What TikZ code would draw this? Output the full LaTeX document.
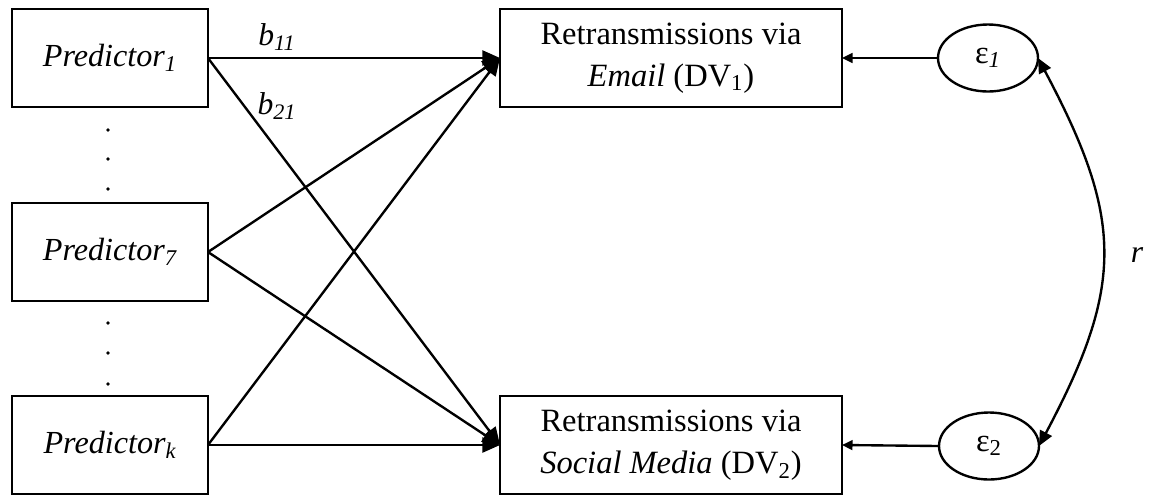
\documentclass[tikz,border=0pt]{standalone}
\usepackage{fontspec}
\setmainfont{Liberation Serif}
\usetikzlibrary{arrows.meta,shapes.geometric}
\begin{document}
\begin{tikzpicture}[x=0.02cm,y=-0.02cm,
  predbox/.style={draw,line width=1.35pt,outer sep=0pt,inner sep=0pt,
    minimum width=3.92cm,minimum height=1.96cm,
    font=\fontsize{18.3}{22}\selectfont\itshape},
  dvbox/.style={draw,line width=1.35pt,outer sep=0pt,inner sep=0pt,
    minimum width=6.84cm,minimum height=1.96cm,align=center,
    font=\fontsize{18.5}{24}\selectfont},
  errnode/.style={draw,ellipse,line width=1.35pt,outer sep=0pt,inner sep=0pt,
    minimum width=2cm,minimum height=1.34cm,
    font=\fontsize{18.5}{22}\selectfont},
  path/.style={line width=1.35pt,-{Triangle[length=10pt,width=8.5pt]}},
  errpath/.style={line width=1.35pt,-{Triangle[length=6pt,width=5.5pt]}},
  corr/.style={line width=1.35pt,{Triangle[length=8.5pt,width=7.5pt]}-{Triangle[length=8.5pt,width=7.5pt]}},
  lbl/.style={font=\fontsize{18}{21}\selectfont\itshape,inner sep=0pt}]
\useasboundingbox (0,0) rectangle (1150,495);

% predictors
\node[predbox] (p1) at (110,58) {Predictor\textsubscript{1}};
\node[predbox] (p7) at (110,252) {Predictor\textsubscript{7}};
\node[predbox] (pk) at (110,445) {Predictor\textsubscript{k}};

% ellipsis dots between predictors
\foreach \yy in {130,159,189,323,353,384}
  \fill (108,\yy) circle (1.9);

% dependent variables
\node[dvbox] (dv1) at (671,58) {Retransmissions via\\\textit{Email} (DV\textsubscript{1})};
\node[dvbox] (dv2) at (671,445) {Retransmissions via\\\textit{Social Media} (DV\textsubscript{2})};

% residuals
\node[errnode] (e1) at (988,58) {ε\textsubscript{\textit{1}}};
\node[errnode] (e2) at (989,446) {ε\textsubscript{2}};

% regression paths
\foreach \p in {p1,p7,pk} {
  \draw[path] (\p.east) -- (dv1.west);
  \draw[path] (\p.east) -- (dv2.west);
}

% residual paths
\draw[errpath] (e1.west) -- (dv1.east);
\draw[errpath] (e2.west) -- (dv2.east);

% residual correlation
\draw[corr] (e1.east) to[out=-62,in=62,looseness=1.2] (e2.east);

% labels
\node[lbl] (b11) at (277,37) {b\textsubscript{11}};
\node[lbl] (b21) at (277,106) {b\textsubscript{21}};
\node[lbl] (r) at (1137,255) {r};
\end{tikzpicture}
\end{document}
